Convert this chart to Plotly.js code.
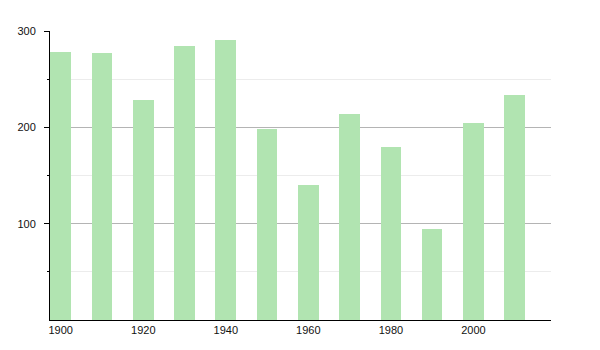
<!DOCTYPE html>
<html>
<head>
<meta charset="utf-8">
<script src="https://cdn.plot.ly/plotly-3.0.1.min.js"></script>
<style>body{margin:0;padding:0;background:#fff;}#chart{width:600px;height:350px;}</style>
</head>
<body>
<div id="chart"></div>
<script>
var years = [1900, 1910, 1920, 1930, 1940, 1950, 1960, 1970, 1980, 1990, 2000, 2010];
var values = [278, 277, 228, 284, 291, 198, 140, 214, 180, 94, 205, 234];
var xTickVals = [1900, 1920, 1940, 1960, 1980, 2000];
var yTickVals = [100, 200, 300];

var trace = {
  type: 'bar',
  x: years,
  y: values,
  width: 5,
  marker: {color: '#b1e4b1', line: {width: 0}},
  hoverinfo: 'x+y'
};

var layout = {
  width: 600, height: 350,
  margin: {l: 50, r: 49, t: 31, b: 30, pad: 0},
  paper_bgcolor: '#ffffff',
  plot_bgcolor: '#ffffff',
  showlegend: false,
  font: {family: 'Liberation Sans, Arial, sans-serif', size: 11, color: '#111'},
  xaxis: {
    range: [1897.4, 2018.8],
    tickmode: 'array', tickvals: xTickVals, ticktext: xTickVals.map(String),
    showgrid: false, zeroline: false,
    showline: true, linecolor: '#000', linewidth: 1,
    ticks: '', ticklen: 0,
    tickfont: {size: 11, color: '#111'}
  },
  yaxis: {
    range: [0, 300],
    tickmode: 'array', tickvals: yTickVals, ticktext: yTickVals.map(String),
    showgrid: true, gridcolor: '#b4b4b4', gridwidth: 1,
    zeroline: false,
    showline: true, linecolor: '#000', linewidth: 1,
    ticks: 'outside', ticklen: 5, tickcolor: '#000', tickwidth: 1,
    ticklabelstandoff: 6,
    tickfont: {size: 11, color: '#111'},
    minor: {tickvals: [50, 150, 250], ticks: 'outside', ticklen: 2, tickcolor: '#000', showgrid: true, gridcolor: '#ececec', gridwidth: 1}
  },
  bargap: 0
};

Plotly.newPlot('chart', [trace], layout, {displayModeBar: false, staticPlot: true});
</script>
</body>
</html>
